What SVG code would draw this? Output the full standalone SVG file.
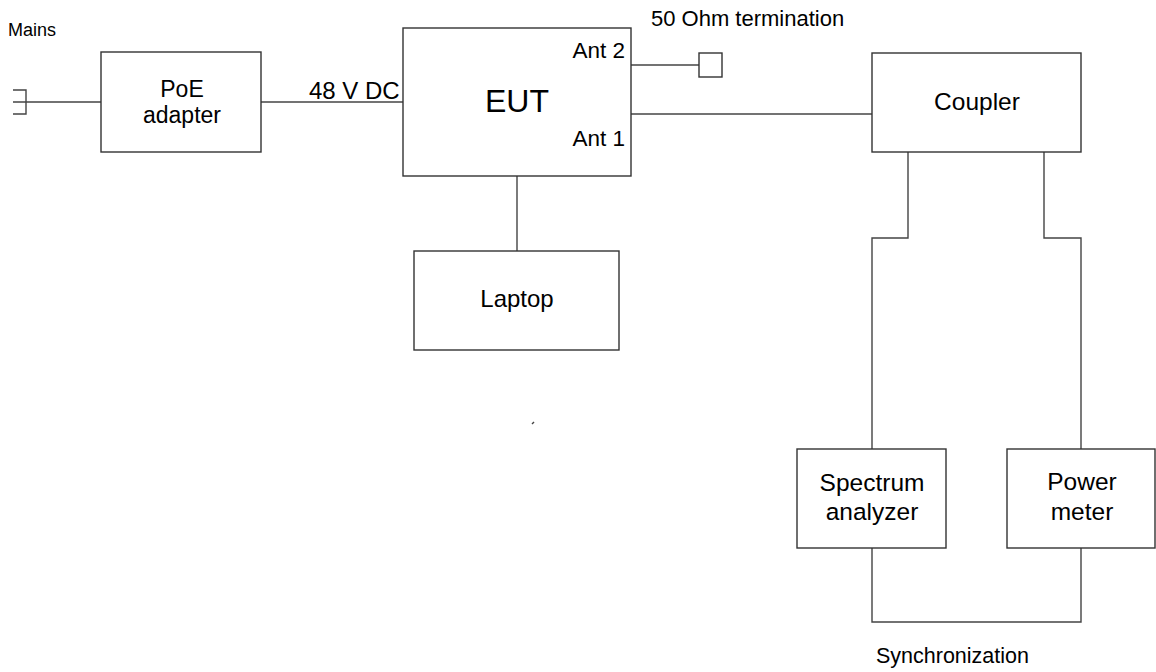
<svg xmlns="http://www.w3.org/2000/svg" width="1156" height="672" viewBox="0 0 1156 672">
<style>
.box{fill:#fff;stroke:#333;stroke-width:1.4}
.ln{fill:none;stroke:#444;stroke-width:1.4}
text{font-family:"Liberation Sans",Arial,sans-serif;font-size:24px;fill:#000}
.c{text-anchor:middle}
.r{text-anchor:end}
</style>
<rect width="1156" height="672" fill="#fff"/>
<g id="connectors">
<path class="ln" d="M13 90H26V114H13M13 102H101"/>
<path class="ln" d="M261 102H403"/>
<path class="ln" d="M631 65H699"/>
<path class="ln" d="M631 114H872"/>
<path class="ln" d="M517 176V251"/>
<path class="ln" d="M908 152V238H872V449"/>
<path class="ln" d="M1044 152V238H1081V449"/>
<path class="ln" d="M872 548V622H1081V548"/>
<path class="ln" d="M532 424L534 422" stroke-width="1"/>
</g>
<g id="mains"><text x="8" y="36" style="font-size:18px">Mains</text></g>
<g id="poe"><rect class="box" x="101" y="52" width="160" height="100"/><text class="c" x="182" y="97" style="font-size:23px">PoE</text><text class="c" x="182" y="123" style="font-size:23px">adapter</text></g>
<g id="dc-label"><text x="309" y="99">48 V DC</text></g>
<g id="eut"><rect class="box" x="403" y="28" width="228" height="148"/><text class="c" x="517" y="112" style="font-size:32px">EUT</text><text class="r" x="625" y="58" style="font-size:22.5px">Ant 2</text><text class="r" x="625" y="146" style="font-size:22.5px">Ant 1</text></g>
<g id="termination"><rect class="box" x="699" y="53" width="23" height="24"/><text x="651" y="26" style="font-size:22px">50 Ohm termination</text></g>
<g id="laptop"><rect class="box" x="414" y="251" width="205" height="99"/><text class="c" x="517" y="307">Laptop</text></g>
<g id="coupler"><rect class="box" x="872" y="53" width="209" height="99"/><text class="c" x="977" y="110" style="font-size:24.5px">Coupler</text></g>
<g id="spectrum"><rect class="box" x="797" y="449" width="149" height="99"/><text class="c" x="872" y="491" style="font-size:24.5px">Spectrum</text><text class="c" x="872" y="520" style="font-size:24.5px">analyzer</text></g>
<g id="power"><rect class="box" x="1007" y="449" width="148" height="99"/><text class="c" x="1082" y="490" style="font-size:24.5px">Power</text><text class="c" x="1082" y="520" style="font-size:24.5px">meter</text></g>
<g id="sync"><text x="876" y="663" style="font-size:21.5px">Synchronization</text></g>
</svg>
